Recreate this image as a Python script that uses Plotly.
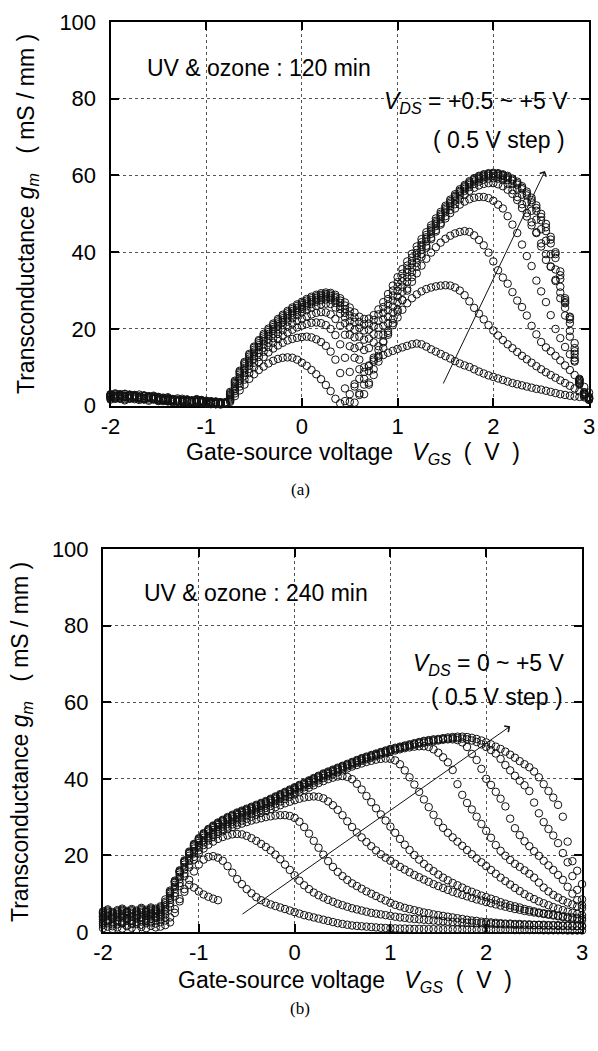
import plotly.graph_objects as go

# Gate sweep: -2 V to +3 V in 0.05 V steps (101 points per curve)
VGS_START, VGS_STEP, VGS_POINTS = -2.0, 0.05, 101
VGS = [round(VGS_START + VGS_STEP * i, 2) for i in range(VGS_POINTS)]

X_TICKS = [-2, -1, 0, 1, 2, 3]
X_TICK_TEXT = ["-2", "-1", "0", "1", "2", "3"]
Y_TICKS = [0, 20, 40, 60, 80, 100]

# ---------------- (a) UV & ozone : 120 min, VDS = 0.5 ... 5 V ----------------
VDS_A = [0.5, 1.0, 1.5, 2.0, 2.5, 3.0, 3.5, 4.0, 4.5, 5.0]

GM_A_05 = [1.6, 2.1, 1.8, 1.4, 2.0, 1.7, 1.5, 1.9, 1.3, 1.6, 1.2, 1.5, 1.1, 0.9, 1.3, 1.0, 0.8, 1.2, 1.6, 0.9,
           0.5, 0.4, 0.6, 0.3, 0.5, 1.0, 2.5, 4.0, 5.5, 7.0, 8.2, 9.3, 10.2, 11.0, 11.7, 12.2, 12.5, 12.6, 12.5, 12.0,
           11.2, 10.4, 9.3, 8.2, 6.9, 5.4, 3.8, 1.8, 0.6, 1.2, 3.0, 5.0, 7.0, 8.8, 10.3, 11.5, 12.5, 13.2, 13.8, 14.3,
           14.8, 15.2, 15.6, 16.0, 16.2, 16.0, 15.4, 14.7, 14.1, 13.5, 12.9, 12.3, 11.6, 11.0, 10.5, 10.1, 9.5, 8.9, 8.4, 7.9,
           7.5, 7.1, 6.7, 6.3, 5.9, 5.6, 5.3, 5.0, 4.7, 4.4, 4.2, 3.9, 3.6, 3.3, 3.0, 2.8, 2.6, 2.4, 2.3, 2.2,
           2.1]
GM_A_10 = [2.4, 1.9, 2.2, 2.6, 1.8, 2.3, 2.0, 1.6, 2.2, 1.8, 1.4, 1.7, 1.3, 1.5, 1.1, 1.4, 1.0, 1.3, 0.8, 1.1,
           0.6, 0.8, 0.4, 0.7, 0.5, 1.3, 3.2, 5.0, 6.8, 8.5, 10.0, 11.4, 12.7, 13.9, 14.9, 15.7, 16.4, 17.0, 17.4, 17.7,
           17.9, 18.0, 17.8, 17.3, 16.6, 15.6, 14.1, 12.0, 8.5, 4.5, 1.0, 0.8, 2.8, 5.5, 9.0, 12.0, 14.5, 16.8, 19.0, 21.0,
           23.0, 25.0, 26.7, 28.0, 29.0, 29.8, 30.4, 30.8, 31.1, 31.3, 31.4, 31.3, 30.8, 30.0, 28.8, 27.2, 25.5, 24.0, 22.5, 21.0,
           19.6, 18.3, 17.1, 16.0, 15.0, 14.0, 13.0, 12.1, 11.2, 10.3, 9.5, 8.7, 8.0, 7.3, 6.6, 5.9, 5.2, 4.5, 3.8, 3.0,
           2.3]
GM_A_15 = [1.9, 2.5, 2.1, 1.7, 2.4, 2.2, 1.8, 2.0, 1.6, 1.9, 1.5, 1.2, 1.6, 1.3, 1.0, 1.2, 0.9, 1.4, 1.1, 0.7,
           0.7, 0.5, 0.8, 0.5, 0.6, 1.6, 3.8, 5.8, 7.8, 9.6, 11.2, 12.7, 14.1, 15.3, 16.4, 17.4, 18.3, 19.1, 19.8, 20.4,
           20.9, 21.3, 21.6, 21.7, 21.5, 21.0, 20.0, 18.4, 16.0, 12.5, 8.8, 5.6, 3.2, 3.0, 6.0, 9.5, 13.0, 16.5, 19.5, 22.5,
           25.0, 27.5, 30.0, 32.3, 34.5, 36.5, 38.3, 39.9, 41.3, 42.5, 43.5, 44.3, 44.9, 45.3, 45.5, 45.3, 44.4, 43.2, 41.8, 39.9,
           37.6, 35.3, 33.4, 31.8, 29.6, 27.4, 25.7, 23.5, 20.8, 18.6, 16.6, 15.2, 14.2, 13.0, 11.8, 10.5, 9.3, 8.0, 6.6, 4.9,
           3.4]
GM_A_20 = [2.2, 1.8, 2.6, 2.3, 1.9, 2.5, 2.1, 1.7, 2.0, 2.3, 1.6, 1.4, 1.8, 1.1, 1.3, 0.9, 1.2, 1.0, 1.5, 1.0,
           0.8, 0.6, 0.4, 0.8, 0.6, 1.9, 4.3, 6.5, 8.6, 10.5, 12.2, 13.7, 15.1, 16.4, 17.6, 18.7, 19.7, 20.6, 21.4, 22.1,
           22.7, 23.3, 23.8, 24.2, 24.4, 24.3, 23.8, 22.6, 20.8, 18.5, 15.5, 12.5, 9.5, 7.0, 5.5, 8.0, 11.5, 15.0, 18.5, 21.5,
           24.5, 27.5, 30.5, 33.5, 36.2, 38.8, 41.2, 43.4, 45.4, 47.2, 48.8, 50.2, 51.4, 52.4, 53.2, 53.8, 54.2, 54.4, 54.4, 54.1,
           53.4, 52.4, 51.4, 49.4, 47.2, 45.0, 42.0, 39.0, 36.4, 32.6, 29.8, 27.0, 23.6, 20.0, 17.6, 15.3, 13.4, 11.8, 6.5, 3.5,
           2.0]
GM_A_25 = [2.7, 2.2, 1.9, 2.5, 2.8, 2.0, 2.4, 1.8, 2.2, 1.7, 2.0, 1.5, 1.3, 1.7, 1.2, 1.0, 1.4, 0.8, 1.2, 0.9,
           0.9, 0.6, 0.9, 0.5, 0.7, 2.2, 4.8, 7.1, 9.2, 11.1, 12.9, 14.5, 16.0, 17.4, 18.7, 19.9, 21.0, 21.9, 22.8, 23.6,
           24.3, 24.9, 25.5, 26.0, 26.4, 26.6, 26.5, 25.6, 24.0, 21.5, 18.5, 15.0, 12.0, 10.0, 10.5, 12.5, 15.5, 18.5, 21.5, 24.3,
           27.0, 29.7, 32.3, 34.8, 37.2, 39.5, 41.7, 43.8, 45.8, 47.6, 49.4, 51.0, 52.5, 53.8, 55.0, 56.0, 56.8, 57.4, 57.8, 58.0,
           58.0, 57.7, 57.2, 56.3, 55.2, 53.6, 51.5, 49.3, 47.0, 45.0, 41.5, 38.0, 36.2, 32.8, 29.5, 26.7, 23.2, 16.3, 5.9, 3.0,
           1.8]
GM_A_30 = [2.3, 2.9, 2.5, 2.1, 2.6, 2.3, 1.9, 2.4, 2.0, 2.2, 1.7, 1.9, 1.4, 1.2, 1.6, 1.1, 1.3, 1.0, 0.9, 1.3,
           1.0, 0.7, 0.5, 0.9, 0.6, 2.5, 5.2, 7.6, 9.8, 11.8, 13.6, 15.3, 16.8, 18.2, 19.5, 20.7, 21.8, 22.8, 23.7, 24.5,
           25.2, 25.9, 26.5, 27.1, 27.5, 27.7, 27.6, 26.8, 25.2, 23.0, 20.5, 17.8, 15.5, 14.5, 15.0, 16.5, 18.5, 20.8, 23.2, 25.8,
           28.4, 31.0, 33.5, 36.0, 38.4, 40.6, 42.8, 44.8, 46.8, 48.6, 50.4, 52.0, 53.5, 54.8, 56.0, 57.0, 57.8, 58.4, 58.9, 59.2,
           59.3, 59.2, 58.8, 57.8, 56.2, 54.4, 52.5, 50.2, 47.8, 45.2, 42.3, 39.5, 36.3, 32.5, 28.0, 23.5, 18.0, 11.5, 5.5, 2.5,
           1.5]
GM_A_35 = [2.8, 2.4, 3.0, 2.6, 2.2, 2.7, 2.4, 2.0, 2.5, 1.9, 2.1, 1.6, 1.8, 1.4, 1.1, 1.5, 1.2, 0.9, 1.4, 1.1,
           0.8, 1.0, 0.6, 0.7, 0.9, 2.8, 5.6, 8.1, 10.3, 12.3, 14.1, 15.8, 17.3, 18.7, 20.0, 21.2, 22.3, 23.3, 24.2, 25.0,
           25.7, 26.4, 27.0, 27.6, 28.0, 28.2, 28.1, 27.4, 26.0, 24.2, 22.0, 19.8, 18.0, 17.2, 17.5, 18.6, 20.3, 22.5, 24.9, 27.4,
           29.9, 32.4, 34.8, 37.1, 39.3, 41.4, 43.5, 45.5, 47.4, 49.2, 50.9, 52.5, 54.0, 55.3, 56.5, 57.5, 58.4, 59.0, 59.5, 59.8,
           59.9, 59.8, 59.4, 58.8, 57.8, 56.6, 55.0, 53.0, 50.8, 48.5, 46.0, 43.0, 39.5, 35.5, 31.0, 25.5, 19.5, 12.5, 5.8, 2.8,
           1.6]
GM_A_40 = [2.5, 3.0, 2.7, 2.3, 2.9, 2.5, 2.1, 2.6, 2.2, 2.4, 1.9, 2.1, 1.5, 1.7, 1.3, 1.1, 1.6, 1.2, 1.0, 1.5,
           1.2, 0.8, 1.0, 0.6, 0.8, 3.0, 5.9, 8.5, 10.8, 12.8, 14.6, 16.3, 17.8, 19.2, 20.5, 21.7, 22.8, 23.8, 24.7, 25.5,
           26.2, 26.9, 27.5, 28.1, 28.5, 28.7, 28.6, 28.0, 26.8, 25.2, 23.5, 21.8, 20.3, 19.6, 19.8, 20.7, 22.2, 24.2, 26.4, 28.7,
           31.0, 33.3, 35.5, 37.7, 39.8, 41.9, 43.9, 45.9, 47.8, 49.6, 51.3, 52.9, 54.4, 55.7, 56.9, 57.9, 58.8, 59.4, 59.9, 60.2,
           60.4, 60.2, 59.9, 59.3, 58.6, 57.6, 56.4, 54.8, 53.0, 50.8, 48.3, 45.5, 42.3, 38.5, 33.0, 27.0, 21.5, 13.5, 6.2, 3.0,
           1.8]
GM_A_45 = [3.0, 2.6, 2.9, 3.1, 2.5, 2.8, 2.3, 2.7, 2.4, 2.0, 2.3, 1.8, 2.0, 1.6, 1.4, 1.8, 1.3, 1.1, 1.7, 1.2,
           1.0, 1.2, 0.8, 0.9, 0.7, 3.3, 6.2, 8.8, 11.1, 13.2, 15.1, 16.8, 18.3, 19.7, 21.0, 22.2, 23.3, 24.3, 25.2, 26.0,
           26.7, 27.4, 28.0, 28.5, 28.9, 29.1, 29.0, 28.4, 27.4, 26.1, 24.6, 23.0, 21.8, 21.2, 21.4, 22.3, 23.8, 25.7, 27.8, 30.0,
           32.2, 34.4, 36.5, 38.6, 40.6, 42.6, 44.5, 46.4, 48.2, 50.0, 51.7, 53.3, 54.7, 56.0, 57.2, 58.2, 59.1, 59.7, 60.2, 60.4,
           60.5, 60.4, 60.1, 59.6, 58.9, 58.0, 56.8, 55.3, 53.6, 51.5, 49.2, 46.5, 43.3, 39.5, 34.0, 27.5, 22.5, 14.2, 6.8, 3.2,
           1.9]
GM_A_50 = [2.9, 3.2, 2.7, 3.0, 2.8, 2.4, 2.9, 2.5, 2.2, 2.6, 2.1, 1.9, 2.2, 1.7, 1.9, 1.4, 1.6, 1.3, 1.1, 1.4,
           1.3, 1.0, 1.1, 0.8, 0.9, 3.6, 6.5, 9.1, 11.4, 13.5, 15.4, 17.1, 18.7, 20.1, 21.4, 22.6, 23.7, 24.7, 25.6, 26.4,
           27.1, 27.8, 28.4, 28.9, 29.3, 29.5, 29.4, 28.9, 28.0, 26.9, 25.6, 24.3, 23.2, 22.6, 22.7, 23.6, 25.1, 27.0, 29.1, 31.3,
           33.5, 35.6, 37.6, 39.6, 41.5, 43.4, 45.2, 47.0, 48.8, 50.5, 52.1, 53.7, 55.1, 56.4, 57.5, 58.5, 59.3, 59.9, 60.3, 60.6,
           60.7, 60.6, 60.3, 59.9, 59.2, 58.4, 57.2, 55.8, 54.2, 52.2, 50.0, 47.4, 44.0, 40.0, 35.0, 28.0, 23.0, 15.0, 7.0, 3.5,
           2.0]

GM_A = [GM_A_05, GM_A_10, GM_A_15, GM_A_20, GM_A_25, GM_A_30, GM_A_35, GM_A_40, GM_A_45, GM_A_50]

# ---------------- (b) UV & ozone : 240 min, VDS = 0 ... 5 V ----------------
VDS_B = [0.0, 0.5, 1.0, 1.5, 2.0, 2.5, 3.0, 3.5, 4.0, 4.5, 5.0]

GM_B_00 = [1.0, 1.4, 0.8, 1.2, 0.9, 1.5, 1.1, 0.7, 1.3, 1.0, 1.6, 1.2, 1.4, 1.8, 2.5, 5.0, 8.0, 10.5, 12.3, 11.6,
           10.6, 9.8, 9.2, 8.7, 8.3] + [None] * 76
GM_B_05 = [1.8, 2.3, 1.5, 2.0, 2.4, 1.7, 2.1, 2.6, 1.9, 2.3, 2.8, 2.2, 2.6, 3.0, 3.8, 6.0, 8.6, 11.2, 13.6, 15.8,
           17.6, 18.9, 19.6, 19.8, 19.4, 18.6, 17.2, 15.5, 13.8, 12.5, 11.2, 10.1, 9.1, 8.3, 7.7, 7.2, 6.8, 6.4, 6.0, 5.6,
           5.2, 4.8, 4.4, 4.1, 3.8, 3.5, 3.2, 2.9, 2.6, 2.3, 2.1, 1.9, 1.7, 1.6, 1.5, 1.4, 1.3, 1.2, 1.1, 1.05,
           1.0, 0.95, 0.9, 0.9, 0.85, 0.8, 0.8, 0.8, 0.75, 0.75, 0.7, 0.7, 0.7, 0.7, 0.65, 0.65, 0.65, 0.6, 0.6, 0.6,
           0.6, 0.6, 0.55, 0.55, 0.55, 0.55, 0.5, 0.5, 0.5, 0.5, 0.5, 0.5, 0.45, 0.45, 0.45, 0.45, 0.45, 0.4, 0.4, 0.4,
           0.4]
GM_B_10 = [2.3, 2.8, 2.0, 2.6, 2.2, 2.9, 2.4, 2.1, 2.7, 3.1, 2.5, 3.0, 3.3, 3.8, 6.6, 9.3, 12.0, 14.6, 16.9, 18.9,
           20.5, 21.8, 22.8, 23.6, 24.3, 24.8, 25.2, 25.5, 25.6, 25.5, 25.1, 24.5, 23.8, 23.0, 22.2, 21.3, 20.2, 19.0, 17.6, 16.2,
           14.8, 13.4, 12.2, 11.2, 10.3, 9.6, 9.0, 8.4, 7.9, 7.4, 7.0, 6.6, 6.2, 5.9, 5.6, 5.3, 5.0, 4.8, 4.6, 4.4,
           4.2, 4.0, 3.8, 3.7, 3.5, 3.4, 3.3, 3.2, 3.1, 3.0, 2.9, 2.8, 2.7, 2.6, 2.6, 2.5, 2.4, 2.4, 2.3, 2.3,
           2.2, 2.2, 2.1, 2.1, 2.0, 2.0, 1.9, 1.9, 1.9, 1.8, 1.8, 1.8, 1.7, 1.7, 1.7, 1.6, 1.6, 1.6, 1.5, 1.5,
           1.5]
GM_B_15 = [2.8, 3.2, 2.5, 3.0, 2.7, 3.3, 2.9, 3.5, 3.1, 2.8, 3.4, 3.7, 3.9, 4.6, 7.5, 10.2, 12.8, 15.3, 17.6, 19.6,
           21.3, 22.7, 23.9, 24.8, 25.6, 26.3, 26.9, 27.4, 27.9, 28.3, 28.7, 29.1, 29.4, 29.7, 30.0, 30.2, 30.4, 30.5, 30.5, 30.3,
           29.8, 28.8, 27.4, 25.7, 23.8, 22.0, 20.2, 18.5, 17.0, 15.7, 14.6, 13.6, 12.7, 12.0, 11.3, 10.6, 10.0, 9.4, 8.8, 8.2,
           7.6, 7.1, 6.7, 6.3, 6.0, 5.7, 5.4, 5.1, 4.9, 4.6, 4.4, 4.2, 4.0, 3.8, 3.6, 3.4, 3.2, 3.0, 2.9, 2.7,
           2.6, 2.5, 2.4, 2.3, 2.2, 2.2, 2.1, 2.1, 2.0, 2.0, 1.9, 1.9, 1.9, 1.8, 1.8, 1.8, 1.7, 1.7, 1.7, 1.6,
           1.6]
GM_B_20 = [3.3, 2.9, 3.6, 3.1, 3.8, 3.4, 3.0, 3.7, 3.9, 3.5, 4.1, 3.8, 4.3, 5.4, 8.4, 11.2, 13.8, 16.3, 18.6, 20.5,
           22.1, 23.4, 24.5, 25.4, 26.2, 26.9, 27.5, 28.1, 28.6, 29.1, 29.6, 30.1, 30.6, 31.1, 31.6, 32.1, 32.6, 33.1, 33.6, 34.0,
           34.4, 34.8, 35.1, 35.3, 35.4, 35.3, 34.9, 34.1, 33.1, 31.9, 30.5, 28.9, 27.4, 26.0, 24.7, 23.5, 22.4, 21.3, 20.3, 19.4,
           18.6, 17.8, 17.0, 16.3, 15.6, 14.9, 14.3, 13.7, 13.1, 12.5, 12.0, 11.5, 11.0, 10.5, 10.1, 9.7, 9.3, 8.9, 8.5, 8.2,
           7.8, 7.5, 7.2, 6.9, 6.6, 6.3, 6.0, 5.8, 5.5, 5.3, 5.1, 4.9, 4.7, 4.5, 4.3, 4.1, 3.9, 3.7, 3.5, 3.3,
           3.1]
GM_B_25 = [3.7, 4.1, 3.4, 3.9, 4.3, 3.6, 4.0, 4.4, 3.8, 4.2, 4.6, 4.1, 4.8, 5.9, 8.9, 11.8, 14.4, 16.9, 19.2, 21.1,
           22.7, 24.0, 25.1, 26.0, 26.8, 27.5, 28.2, 28.8, 29.4, 29.9, 30.4, 30.9, 31.4, 31.9, 32.4, 32.9, 33.5, 34.1, 34.7, 35.3,
           35.9, 36.5, 37.1, 37.7, 38.3, 38.9, 39.4, 39.9, 40.3, 40.6, 40.7, 40.5, 39.9, 38.7, 37.2, 35.5, 33.9, 32.3, 30.7, 29.1,
           27.5, 25.9, 24.3, 22.8, 21.4, 20.1, 18.9, 17.8, 16.8, 15.9, 15.0, 14.2, 13.5, 12.8, 12.2, 11.6, 11.0, 10.5, 10.0, 9.5,
           9.1, 8.7, 8.3, 7.8, 7.4, 7.0, 6.7, 6.4, 6.0, 5.7, 5.4, 5.1, 4.9, 4.7, 4.5, 4.3, 4.1, 3.9, 3.8, 3.7,
           3.6]
GM_B_30 = [4.0, 4.5, 3.8, 4.3, 4.7, 4.1, 4.6, 4.2, 4.9, 4.4, 5.0, 4.7, 5.3, 6.5, 9.5, 12.3, 15.0, 17.6, 19.9, 21.8,
           23.3, 24.6, 25.7, 26.6, 27.4, 28.1, 28.8, 29.4, 30.0, 30.5, 31.0, 31.5, 32.0, 32.5, 33.0, 33.6, 34.2, 34.8, 35.4, 36.0,
           36.6, 37.2, 37.8, 38.4, 39.0, 39.6, 40.2, 40.7, 41.2, 41.7, 42.2, 42.7, 43.2, 43.6, 44.0, 44.4, 44.7, 45.0, 45.2, 45.3,
           45.2, 44.8, 43.8, 42.2, 40.4, 38.5, 36.6, 34.6, 32.6, 30.6, 28.7, 27.2, 25.9, 24.7, 23.6, 22.5, 21.4, 20.3, 19.2, 18.2,
           17.2, 16.2, 15.2, 14.2, 13.3, 12.4, 11.5, 10.7, 9.9, 9.2, 8.6, 8.0, 7.5, 7.0, 6.5, 6.1, 5.7, 5.3, 5.0, 4.7,
           4.4]
GM_B_35 = [4.4, 4.9, 4.2, 4.7, 5.1, 4.5, 5.0, 4.6, 5.3, 4.8, 5.4, 5.1, 5.7, 7.0, 10.0, 12.8, 15.5, 18.1, 20.4, 22.3,
           23.8, 25.1, 26.2, 27.1, 27.9, 28.6, 29.3, 29.9, 30.5, 31.0, 31.5, 32.0, 32.5, 33.0, 33.5, 34.1, 34.7, 35.3, 35.9, 36.5,
           37.1, 37.7, 38.3, 38.9, 39.5, 40.1, 40.7, 41.2, 41.7, 42.2, 42.7, 43.2, 43.7, 44.2, 44.7, 45.1, 45.5, 45.9, 46.3, 46.7,
           47.1, 47.4, 47.7, 48.0, 48.2, 48.4, 48.5, 48.5, 48.3, 47.7, 46.8, 45.6, 44.3, 42.3, 38.6, 35.8, 33.7, 32.0, 30.1, 28.2,
           26.4, 24.6, 22.7, 21.2, 19.9, 18.8, 17.8, 17.0, 16.1, 15.2, 14.2, 12.9, 11.6, 10.6, 9.7, 9.0, 8.3, 7.7, 7.2, 6.7,
           6.2]
GM_B_40 = [4.8, 5.3, 4.6, 5.1, 5.5, 4.9, 5.4, 5.0, 5.7, 5.2, 5.8, 5.5, 6.1, 7.5, 10.3, 13.0, 15.7, 18.3, 20.6, 22.6,
           24.1, 25.4, 26.5, 27.4, 28.2, 28.9, 29.6, 30.2, 30.8, 31.3, 31.8, 32.3, 32.8, 33.3, 33.8, 34.4, 35.0, 35.6, 36.2, 36.8,
           37.4, 38.0, 38.6, 39.2, 39.8, 40.4, 41.0, 41.5, 42.0, 42.5, 43.0, 43.5, 44.0, 44.5, 45.0, 45.4, 45.8, 46.2, 46.6, 47.0,
           47.4, 47.7, 48.0, 48.3, 48.6, 48.9, 49.2, 49.4, 49.6, 49.8, 50.0, 50.2, 50.3, 50.3, 50.1, 49.5, 48.3, 46.5, 44.9, 42.6,
           40.0, 38.4, 36.6, 34.8, 32.8, 29.6, 27.1, 25.3, 23.7, 22.4, 21.1, 19.9, 18.6, 17.4, 16.2, 14.9, 13.6, 11.8, 10.0, 8.3,
           7.0]
GM_B_45 = [5.1, 5.6, 4.9, 5.4, 5.8, 5.2, 5.7, 5.3, 6.0, 5.5, 6.1, 5.8, 6.4, 7.9, 10.5, 13.2, 15.9, 18.5, 20.8, 22.8,
           24.3, 25.6, 26.7, 27.6, 28.4, 29.1, 29.8, 30.4, 31.0, 31.5, 32.0, 32.5, 33.0, 33.5, 34.0, 34.6, 35.2, 35.8, 36.4, 37.0,
           37.6, 38.2, 38.8, 39.4, 40.0, 40.6, 41.2, 41.7, 42.2, 42.7, 43.2, 43.7, 44.2, 44.7, 45.2, 45.6, 46.0, 46.4, 46.8, 47.2,
           47.6, 47.9, 48.2, 48.5, 48.8, 49.1, 49.4, 49.7, 49.9, 50.1, 50.2, 50.4, 50.5, 50.6, 50.6, 50.5, 50.3, 50.0, 49.6, 49.0,
           48.3, 47.5, 46.6, 45.2, 43.6, 42.2, 40.8, 39.5, 38.3, 36.8, 33.8, 31.0, 28.7, 26.9, 25.2, 23.2, 20.6, 18.2, 14.6, 11.0,
           8.5]
GM_B_50 = [5.4, 5.9, 5.2, 5.7, 6.1, 5.5, 6.0, 5.6, 6.3, 5.8, 6.4, 6.1, 6.7, 8.5, 10.8, 13.4, 16.1, 18.7, 21.0, 23.0,
           24.5, 25.8, 26.9, 27.8, 28.6, 29.3, 30.0, 30.6, 31.2, 31.7, 32.2, 32.7, 33.2, 33.7, 34.2, 34.8, 35.4, 36.0, 36.6, 37.2,
           37.8, 38.4, 39.0, 39.6, 40.2, 40.8, 41.4, 41.9, 42.4, 42.9, 43.4, 43.9, 44.4, 44.9, 45.4, 45.8, 46.2, 46.6, 47.0, 47.4,
           47.8, 48.1, 48.4, 48.7, 49.0, 49.3, 49.6, 49.9, 50.1, 50.3, 50.4, 50.6, 50.8, 50.9, 51.0, 51.0, 50.9, 50.7, 50.4, 50.0,
           49.5, 49.0, 48.4, 47.8, 47.1, 46.3, 45.5, 44.6, 43.8, 43.0, 41.9, 40.4, 38.6, 36.8, 35.1, 33.2, 30.1, 23.6, 18.5, 16.0,
           12.5]

GM_B = [GM_B_00, GM_B_05, GM_B_10, GM_B_15, GM_B_20, GM_B_25, GM_B_30, GM_B_35, GM_B_40, GM_B_45, GM_B_50]

for curve in GM_A + GM_B:
    assert len(curve) == VGS_POINTS, len(curve)

FONT = "Liberation Sans, Arial, Helvetica, sans-serif"
INK = "#111111"

fig = go.Figure()

MARKER = dict(symbol="circle-open", size=7.5, color=INK, line=dict(width=1.0, color=INK))

for vds, gm in zip(VDS_A, GM_A):
    fig.add_trace(go.Scatter(x=VGS, y=gm, mode="markers", marker=MARKER,
                             name=f"VDS = {vds} V", xaxis="x", yaxis="y", cliponaxis=False))
for vds, gm in zip(VDS_B, GM_B):
    fig.add_trace(go.Scatter(x=VGS, y=gm, mode="markers", marker=MARKER,
                             name=f"VDS = {vds} V", xaxis="x2", yaxis="y2", cliponaxis=False))


def frame_axis(rng, tickvals, domain, anchor, ticktext=None):
    ax = dict(
        range=rng, domain=domain, anchor=anchor, automargin=False,
        tickmode="array", tickvals=tickvals,
        showline=True, linewidth=2, linecolor="black", mirror="ticks",
        ticks="inside", ticklen=8, tickwidth=2, tickcolor="black",
        showgrid=True, gridcolor="#555555", griddash="dot", gridwidth=1,
        zeroline=False, layer="below traces",
        tickfont=dict(family=FONT, size=22, color="black"),
    )
    if ticktext is not None:
        ax["ticktext"] = ticktext
    return ax


W, H = 598, 1051
# plot-area rectangles in pixels: (left, right, top, bottom)
PA = (110.5, 589.0, 22.0, 405.7)
PB = (103.0, 582.0, 549.0, 932.0)


def xdom(p):
    return [p[0] / W, p[1] / W]


def ydom(p):
    return [1 - p[3] / H, 1 - p[2] / H]


xa = frame_axis([-2, 3], X_TICKS, xdom(PA), "y", X_TICK_TEXT)
ya = frame_axis([0, 100], Y_TICKS, ydom(PA), "x")
xb = frame_axis([-2, 3], X_TICKS, xdom(PB), "y2", X_TICK_TEXT)
yb = frame_axis([0, 100], Y_TICKS, ydom(PB), "x2")
for ax in (xa, xb):
    ax["ticklabelstandoff"] = 0
for ax in (ya, yb):
    ax["ticklabelstandoff"] = 8

NB = "\u00a0"
X_TITLE = ("Gate-source voltage" + NB * 3 + "<i>V</i><sub><i>GS</i></sub>" + NB * 2
           + "(" + NB * 2 + "V" + NB * 2 + ")")
Y_TITLE = ("Transconductance" + NB + "<i>g</i><sub><i>m</i></sub>" + NB * 3
           + "(" + NB + "mS" + NB + "/" + NB + "mm" + NB + ")")

TXT = dict(family=FONT, size=23, color="black")

annotations = [
    # axis titles
    dict(text=X_TITLE, xref="paper", yref="paper", x=353 / W, y=1 - 453 / H,
         showarrow=False, font=TXT, xanchor="center", yanchor="middle"),
    dict(text=Y_TITLE, xref="paper", yref="paper", x=27 / W, y=1 - 214 / H,
         showarrow=False, font=TXT, textangle=-90, xanchor="center", yanchor="middle"),
    dict(text=X_TITLE, xref="paper", yref="paper", x=345 / W, y=1 - 981 / H,
         showarrow=False, font=TXT, xanchor="center", yanchor="middle"),
    dict(text=Y_TITLE, xref="paper", yref="paper", x=21 / W, y=1 - 742 / H,
         showarrow=False, font=TXT, textangle=-90, xanchor="center", yanchor="middle"),
    # panel (a) labels
    dict(text="UV & ozone : 120 min", xref="x", yref="y", x=-1.64, y=88.0,
         showarrow=False, font=TXT, xanchor="left", yanchor="middle"),
    dict(text="<i>V</i><sub><i>DS</i></sub> = +0.5 ~ +5 V", xref="x", yref="y", x=2.80, y=79.0,
         showarrow=False, font=TXT, xanchor="right", yanchor="middle"),
    dict(text="( 0.5 V step )", xref="x", yref="y", x=2.77, y=69.3,
         showarrow=False, font=TXT, xanchor="right", yanchor="middle"),
    dict(x=2.54, y=61.2, ax=1.47, ay=5.4, xref="x", yref="y", axref="x", ayref="y",
         text="", showarrow=True, arrowhead=4, arrowsize=1.4, arrowwidth=1, arrowcolor=INK),
    # panel (b) labels
    dict(text="UV & ozone : 240 min", xref="x2", yref="y2", x=-1.59, y=88.6,
         showarrow=False, font=TXT, xanchor="left", yanchor="middle"),
    dict(text="<i>V</i><sub><i>DS</i></sub> = 0 ~ +5 V", xref="x2", yref="y2", x=2.84, y=69.8,
         showarrow=False, font=TXT, xanchor="right", yanchor="middle"),
    dict(text="( 0.5 V step )", xref="x2", yref="y2", x=2.82, y=61.3,
         showarrow=False, font=TXT, xanchor="right", yanchor="middle"),
    dict(x=2.25, y=53.7, ax=-0.56, ay=4.4, xref="x2", yref="y2", axref="x2", ayref="y2",
         text="", showarrow=True, arrowhead=4, arrowsize=1.4, arrowwidth=1, arrowcolor=INK),
    # captions
    dict(text="(a)", xref="paper", yref="paper", x=300 / W, y=1 - 489 / H, showarrow=False,
         font=dict(family="Liberation Serif, Times New Roman, serif", size=17, color="black")),
    dict(text="(b)", xref="paper", yref="paper", x=300 / W, y=1 - 1020 / H, showarrow=False,
         font=dict(family="Liberation Serif, Times New Roman, serif", size=17, color="black")),
]

fig.update_layout(
    width=W, height=H,
    margin=dict(l=0, r=0, t=0, b=0, autoexpand=False),
    paper_bgcolor="white", plot_bgcolor="white",
    showlegend=False,
    xaxis=xa, yaxis=ya, xaxis2=xb, yaxis2=yb,
    annotations=annotations,
    font=dict(family=FONT, color="black"),
)

fig.write_html("out.html")
